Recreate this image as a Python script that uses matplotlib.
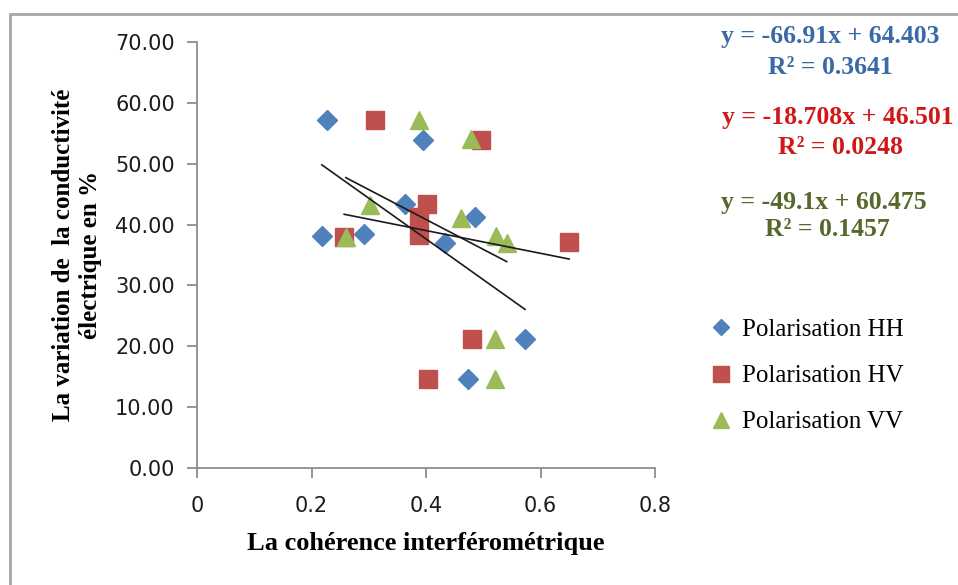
import numpy as np
import matplotlib
matplotlib.use('Agg')
import matplotlib.pyplot as plt
from matplotlib.patches import Rectangle
from matplotlib.ticker import FormatStrFormatter

coh_hh = [0.227, 0.395, 0.363, 0.486, 0.218, 0.292, 0.433, 0.573, 0.474]
var_hh = [57.2, 53.9, 43.4, 41.3, 38.1, 38.4, 36.9, 21.2, 14.6]

coh_hv = [0.311, 0.496, 0.401, 0.388, 0.388, 0.257, 0.650, 0.481, 0.404]
var_hv = [57.2, 53.9, 43.4, 41.3, 38.3, 38.0, 37.1, 21.2, 14.6]

coh_vv = [0.388, 0.479, 0.302, 0.461, 0.260, 0.522, 0.541, 0.521, 0.521]
var_vv = [57.2, 54.0, 43.2, 41.1, 38.0, 38.2, 37.0, 21.2, 14.6]

# trend line coefficients (slope, intercept, r2)
fit_hh = (-66.91, 64.403, 0.3641)
fit_hv = (-18.708, 46.501, 0.0248)
fit_vv = (-49.1, 60.475, 0.1457)

labels = ['Polarisation HH', 'Polarisation HV', 'Polarisation VV']

fig = plt.figure(figsize=(9.58, 5.85), dpi=100)
ax = fig.add_axes([197/958, 1 - 468/585, (655-197)/958, (468-42)/585])

serif = 'Liberation Serif'
grey = '#8c8c8c'

h1, = ax.plot(coh_hh, var_hh, 'D', ms=10, color='#4F81BD', label=labels[0], zorder=3)
h2, = ax.plot(coh_hv, var_hv, 's', ms=13.5, color='#C0504D', label=labels[1], zorder=3)
h3, = ax.plot(coh_vv, var_vv, '^', ms=13, color='#9BBB59', label=labels[2], zorder=3)

for xs, (a, b, r2) in [(coh_hh, fit_hh), (coh_hv, fit_hv), (coh_vv, fit_vv)]:
    xx = np.array([min(xs), max(xs)])
    ax.plot(xx, a * xx + b, color='#1a1a1a', lw=1.2, zorder=4)

ax.set_xlim(0, 0.8)
ax.set_ylim(0, 70)
ax.set_xticks([0, 0.2, 0.4, 0.6, 0.8])
ax.set_xticklabels(['0', '0.2', '0.4', '0.6', '0.8'])
ax.set_yticks(np.arange(0, 71, 10))
ax.yaxis.set_major_formatter(FormatStrFormatter('%.2f'))

for s in ['top', 'right']:
    ax.spines[s].set_visible(False)
for s in ['left', 'bottom']:
    ax.spines[s].set_color(grey)
    ax.spines[s].set_linewidth(1.3)
ax.tick_params(direction='out', length=7, width=1.3, color=grey,
               labelsize=15, labelcolor='#1c1c1c')
ax.tick_params(axis='x', pad=13)
ax.tick_params(axis='y', pad=9)

ax.set_xlabel('La cohérence interférométrique', fontfamily=serif,
              fontweight='bold', fontsize=19, labelpad=12)
fig.text(77/958, 1 - 255/585, 'La variation de  la conductivité\nélectrique en %',
         rotation=90, ha='center', va='center', fontfamily=serif,
         fontweight='bold', fontsize=18, linespacing=1.2)

# trend line equations
eq_style = dict(fontfamily=serif, fontweight='bold', fontsize=18.5, ha='center', va='center')
fig.text(830/958, 1 - 36/585, 'y = -66.91x + 64.403', color='#3A6AA6', **eq_style)
fig.text(830/958, 1 - 67/585, 'R² = 0.3641', color='#3A6AA6', **eq_style)
fig.text(838/958, 1 - 118/585, 'y = -18.708x + 46.501', color='#D01818', **eq_style)
fig.text(840/958, 1 - 148/585, 'R² = 0.0248', color='#D01818', **eq_style)
fig.text(824/958, 1 - 202/585, 'y = -49.1x + 60.475', color='#56692A', **eq_style)
fig.text(827/958, 1 - 230/585, 'R² = 0.1457', color='#56692A', **eq_style)

leg = fig.legend(handles=[h1, h2, h3], loc='upper left',
                 bbox_to_anchor=(686/958, 1 - 296/585), frameon=False,
                 prop={'family': serif, 'size': 18}, labelspacing=0.95,
                 handlelength=1.0, handletextpad=0.35, markerscale=0.85)

# chart area border
fig.patches.append(Rectangle((10/958, -0.1), 1.1, 1 - 14/585 + 0.1,
                             transform=fig.transFigure, fill=False,
                             edgecolor='#a6a6a6', lw=2))

fig.savefig('out.png', dpi=100)
